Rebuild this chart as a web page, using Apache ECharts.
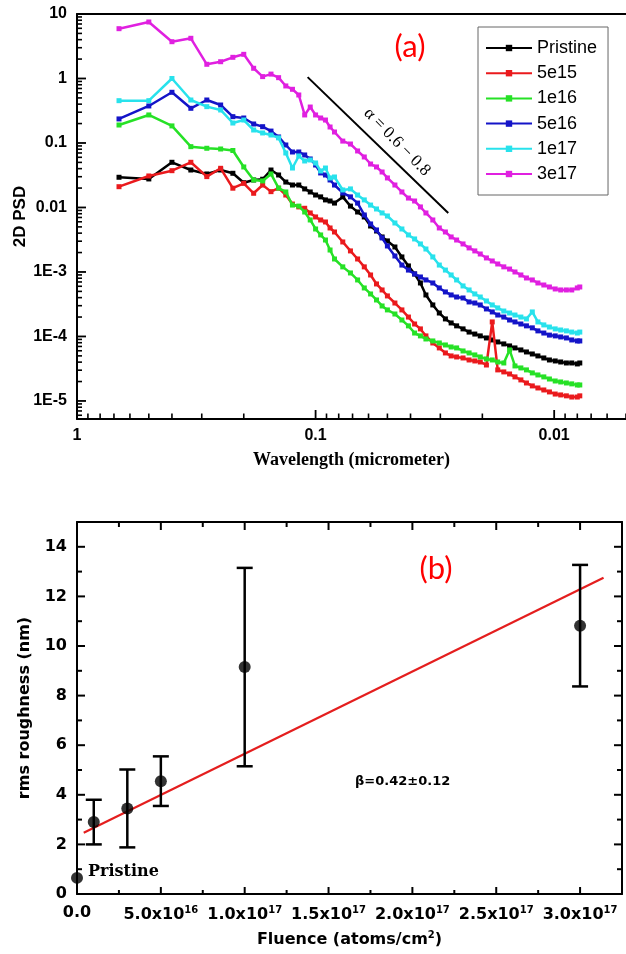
<!DOCTYPE html>
<html><head><meta charset="utf-8">
<script src="https://cdn.jsdelivr.net/npm/echarts@6/dist/echarts.min.js"></script>
<style>html,body{margin:0;padding:0;background:#fff}#c{width:626px;height:954px}</style>
</head><body><div id="c"></div>
<script>
// ---------- (a) 2D PSD vs wavelength ----------
const wavelength = [0.6667,0.5,0.4,0.3333,0.2857,0.25,0.2222,0.2,0.1818,0.1667,0.1538,0.1429,0.1333,0.125,0.1176,0.1111,0.1053,0.1,0.09524,0.09091,0.08696,0.08333,
  0.07692,0.07143,0.06667,0.0625,0.05882,0.05556,0.05263,0.05,
  0.04651,0.04348,0.04082,0.03846,0.03636,0.03448,
  0.03226,0.0303,0.02857,0.02703,0.02564,
  0.0241,0.02273,0.02151,0.02041,
  0.01923,0.01818,0.01724,0.01626,0.01538,0.0146,0.01379,0.01307,0.01235,0.0117,0.01105,0.01047,0.0099,0.00939,0.00889,0.00844,0.008,0.00781];

const psdPristine = [0.0294,0.0277,0.0502,0.0381,0.0331,0.0381,0.0339,0.0242,0.0267,0.0274,0.0381,0.0319,0.0248,0.0223,0.0223,0.0194,0.0174,0.0156,0.0146,0.0131,0.0126,0.0117,
  0.0146,0.0105,0.00851,0.00713,0.00516,0.00432,0.00349,0.00303,
  0.00244,0.00171,0.00124,0.000931,0.000675,0.00044,
  0.000308,0.000231,0.000187,0.000162,0.000146,
  0.000131,0.000117,0.000109,0.000102,
  0.0000948,0.0000883,0.0000822,0.0000766,0.0000713,0.0000664,0.0000618,0.0000575,0.0000535,0.0000499,0.0000464,0.0000432,0.0000417,0.0000402,0.0000388,0.0000388,0.0000375,0.0000388];

const psd5e15 = [0.021,0.0308,0.0372,0.0502,0.0301,0.0405,0.0199,0.0237,0.0166,0.0223,0.0176,0.0199,0.0156,0.0113,0.0102,0.00972,0.00822,0.00713,0.0064,0.00596,0.00481,0.00417,
  0.00292,0.00212,0.00159,0.0012,0.000898,0.000652,0.000526,0.000425,
  0.00033,0.000258,0.0002,0.000156,0.000131,0.000102,
  0.0000793,0.0000664,0.0000555,0.0000499,0.0000481,
  0.0000464,0.0000432,0.0000417,0.0000402,
  0.0000361,0.000168,0.0000303,0.0000282,0.0000262,0.0000236,0.0000212,0.000019,0.0000171,0.0000159,0.0000148,0.0000138,0.0000128,0.0000124,0.000012,0.0000115,0.0000115,0.000012];

const psd1e16 = [0.19,0.272,0.184,0.0877,0.0828,0.0807,0.0765,0.0425,0.0267,0.0258,0.0331,0.02,0.0174,0.0109,0.0105,0.00851,0.0064,0.00464,0.00375,0.00313,0.00219,0.00159,
  0.0012,0.000965,0.000752,0.000565,0.000456,0.000368,0.000297,0.000258,
  0.000223,0.00018,0.000146,0.000113,0.000102,0.0000914,
  0.0000852,0.0000793,0.0000738,0.0000687,0.0000664,
  0.0000596,0.0000555,0.0000517,0.0000481,
  0.0000448,0.0000432,0.0000402,0.0000388,0.0000618,0.0000349,0.0000325,0.0000303,0.0000272,0.0000253,0.0000236,0.0000219,0.0000204,0.0000197,0.000019,0.0000184,0.0000177,0.0000177];

const psd5e16 = [0.236,0.375,0.611,0.345,0.464,0.388,0.256,0.244,0.197,0.179,0.153,0.124,0.0931,0.0725,0.0725,0.0652,0.0565,0.0456,0.0343,0.0319,0.0267,0.0223,
  0.0168,0.0146,0.0117,0.00765,0.00555,0.00448,0.00337,0.00253,
  0.00177,0.00128,0.00107,0.000931,0.000836,0.000752,
  0.000675,0.000565,0.00049,0.00044,0.000409,
  0.000395,0.000343,0.00033,0.000308,
  0.000267,0.00024,0.000215,0.0002,0.00018,0.000168,0.000156,0.000146,0.000136,0.000122,0.000113,0.000105,0.000102,0.0000982,0.0000948,0.0000883,0.0000852,0.0000852];

const psd1e17 = [0.453,0.453,1.0,0.464,0.366,0.325,0.204,0.227,0.159,0.143,0.133,0.12,0.07,0.0409,0.0629,0.0526,0.0545,0.049,0.0368,0.0409,0.0287,0.0297,
  0.0187,0.0194,0.0156,0.0131,0.0109,0.00948,0.00822,0.00738,
  0.00575,0.00464,0.00375,0.00325,0.00272,0.00227,
  0.00171,0.00128,0.00107,0.000898,0.000752,
  0.000607,0.000526,0.000456,0.000409,
  0.000355,0.000308,0.000277,0.000248,0.000231,0.000215,0.0002,0.000187,0.00024,0.000168,0.000151,0.00014,0.000131,0.000126,0.000122,0.000117,0.000113,0.000117];

const psd3e17 = [5.92,7.52,3.72,4.2,1.66,1.82,2.13,2.37,1.44,1.07,1.17,1.03,0.766,0.68,0.555,0.272,0.361,0.272,0.244,0.227,0.177,0.148,
  0.107,0.0964,0.0752,0.0607,0.0472,0.0425,0.0355,0.0287,
  0.0223,0.0174,0.014,0.0126,0.0102,0.00822,
  0.0064,0.00481,0.00417,0.00349,0.00313,
  0.00272,0.00236,0.00212,0.0019,
  0.00165,0.00148,0.00133,0.0012,0.00111,0.001,0.000898,0.000807,0.000752,0.000675,0.000628,0.000585,0.000545,0.000526,0.000526,0.000526,0.000565,0.000585];

const seriesNames = ['Pristine','5e15','1e16','5e16','1e17','3e17'];
const seriesValues = [psdPristine, psd5e15, psd1e16, psd5e16, psd1e17, psd3e17];
const seriesColors = ['#000000','#ea1a1d','#26e126','#1414c8','#28e2ec','#e020e0'];

const psdTickValues = [1e-5,1e-4,1e-3,0.01,0.1,1,10];
const psdTickLabels = ['1E-5','1E-4','1E-3','0.01','0.1','1','10'];
const wlTickValues = [0.01,0.1,1];
const wlTickLabels = ['0.01','0.1','1'];
const slopeLineX = [0.108, 0.0278];
const slopeLineY = [1.05, 0.0082];

// ---------- (b) rms roughness vs fluence ----------
const fluence   = [0, 1e16, 3e16, 5e16, 1e17, 3e17];
const roughness = [0.65, 2.9, 3.45, 4.55, 9.15, 10.82];
const roughErr  = [0, 0.9, 1.57, 1.0, 4.0, 2.45];
const fitX = [4e15, 3.14e17];
const fitY = [2.47, 12.75];
const fluenceTickValues = [0,5e16,1e17,1.5e17,2e17,2.5e17,3e17];
const fluenceTickLabels = ['0.0','5.0x10{sup|16}','1.0x10{sup|17}','1.5x10{sup|17}','2.0x10{sup|17}','2.5x10{sup|17}','3.0x10{sup|17}'];
const fluenceMinorTicks = [2.5e16,7.5e16,1.25e17,1.75e17,2.25e17,2.75e17];
const roughTickValues = [0,2,4,6,8,10,12,14];
const roughTickLabels = ['0','2','4','6','8','10','12','14'];
const roughMinorTicks = [1,3,5,7,9,11,13];

// ---------- axis ranges ----------
const WL_MIN = 0.005, WL_MAX = 1;
const PSD_MIN = 5.25e-6, PSD_MAX = 10;
const FL_MIN = 0, FL_MAX = 3.25e17;
const R_MIN = 0, R_MAX = 15;

const SANS = "'Liberation Sans', Arial, sans-serif";
const WIDE = "'DejaVu Sans', sans-serif";
const SERIF = "'Liberation Serif', 'Times New Roman', serif";

function logLabel(values, labels){
  return function(v){
    for (let i=0;i<values.length;i++){
      if (Math.abs(Math.log10(v)-Math.log10(values[i]))<1e-6) return labels[i];
    }
    return '';
  };
}
function linLabel(values, labels){
  return function(v){
    for (let i=0;i<values.length;i++){
      if (Math.abs(v-values[i]) <= Math.abs(values[i])*1e-9 + 1e-12) return labels[i];
    }
    return '';
  };
}

// tick positions of the log axes (axis decoration, 2..9 per decade)
const wlMinor = [];
[1, 0.1, 0.01].forEach(function(d){ for (let m=2;m<=9;m++){ const v=m*d/10; if (v>=WL_MIN && v<=WL_MAX) wlMinor.push(v); } });
const psdMinor = [];
for (let k=-6;k<=0;k++){ for (let m=2;m<=9;m++){ const v=m*Math.pow(10,k); if (v>=PSD_MIN && v<=PSD_MAX) psdMinor.push(v); } }

// inward tick marks drawn through the axes' own scales
function tickSeries(xi, yi, pts, dx, dy, lw){
  return {
    type:'custom', xAxisIndex:xi, yAxisIndex:yi, silent:true, clip:false, z:6,
    data:pts, encode:{x:0, y:1},
    renderItem:function(params, api){
      const p = api.coord([api.value(0), api.value(1)]);
      return {type:'line', shape:{x1:p[0], y1:p[1], x2:p[0]+dx, y2:p[1]+dy},
              style:{stroke:'#000', lineWidth:lw}};
    }
  };
}
function atX(vals, yEdge){ return vals.map(function(v){ return [v, yEdge]; }); }
function atY(vals, xEdge){ return vals.map(function(v){ return [xEdge, v]; }); }

const psdSeries = seriesNames.map(function(name, s){
  return {
    name:name, type:'line', xAxisIndex:0, yAxisIndex:0,
    data: wavelength.map(function(w,i){ return [w, seriesValues[s][i]]; }),
    symbol:'rect', symbolSize:5, showSymbol:true,
    lineStyle:{color:seriesColors[s], width:2.5},
    itemStyle:{color:seriesColors[s]},
    z:2+s
  };
});

const noTick = {show:false};
const axLine = {onZero:false, lineStyle:{color:'#000', width:2}};
const chart = echarts.init(document.getElementById('c'), null, {renderer:'canvas'});
chart.setOption({
  animation:false,
  backgroundColor:'#ffffff',
  grid:[
    {left:77, top:14, width:549, height:405, containLabel:false, outerBoundsMode:'none'},
    {left:77, top:522, width:545, height:372, containLabel:false, outerBoundsMode:'none'}
  ],
  legend:{
    data:seriesNames, orient:'vertical', left:478, top:27,
    borderColor:'#666', borderWidth:1, borderRadius:0,
    padding:[12, 11, 12, 7],
    itemWidth:46, itemHeight:8, itemGap:7.2,
    selectedMode:false,
    textStyle:{fontFamily:SANS, fontSize:18, color:'#000', lineHeight:17}
  },
  xAxis:[
    {gridIndex:0, type:'log', logBase:10, min:WL_MIN, max:WL_MAX, inverse:true, position:'bottom',
     name:'Wavelength (micrometer)', nameLocation:'middle', nameGap:32, nameMoveOverlap:false,
     nameTextStyle:{fontFamily:SERIF, fontWeight:'bold', fontSize:18, color:'#000'},
     axisLine:axLine, axisTick:noTick, minorTick:noTick,
     axisLabel:{formatter:logLabel(wlTickValues, wlTickLabels), fontFamily:SANS, fontWeight:'bold', fontSize:16, color:'#000', margin:9},
     splitLine:{show:false}},
    {gridIndex:0, type:'log', logBase:10, min:WL_MIN, max:WL_MAX, inverse:true, position:'top',
     axisLine:axLine, axisTick:noTick, axisLabel:{show:false}, splitLine:{show:false}},
    {gridIndex:1, type:'value', min:FL_MIN, max:FL_MAX, interval:5e16, position:'bottom',
     name:'Fluence (atoms/cm{sup|2})', nameLocation:'middle', nameGap:36, nameMoveOverlap:false,
     nameTextStyle:{fontFamily:WIDE, fontWeight:'bold', fontSize:16, color:'#000',
        rich:{sup:{fontFamily:WIDE, fontWeight:'bold', fontSize:10, color:'#000', padding:[0,0,9,0]}}},
     axisLine:axLine, axisTick:noTick, minorTick:noTick,
     axisLabel:{formatter:linLabel(fluenceTickValues, fluenceTickLabels), showMaxLabel:false,
        fontFamily:WIDE, fontWeight:'bold', fontSize:16, color:'#000', margin:11,
        rich:{sup:{fontFamily:WIDE, fontWeight:'bold', fontSize:10, color:'#000', padding:[0,0,9,0]}}},
     splitLine:{show:false}},
    {gridIndex:1, type:'value', min:FL_MIN, max:FL_MAX, interval:5e16, position:'top',
     axisLine:axLine, axisTick:noTick, minorTick:noTick, axisLabel:{show:false}, splitLine:{show:false}}
  ],
  yAxis:[
    {gridIndex:0, type:'log', logBase:10, min:PSD_MIN, max:PSD_MAX, position:'left',
     name:'2D PSD', nameLocation:'middle', nameGap:48, nameMoveOverlap:false,
     nameTextStyle:{fontFamily:SANS, fontWeight:'bold', fontSize:17, color:'#000'},
     axisLine:axLine, axisTick:noTick, minorTick:noTick,
     axisLabel:{formatter:logLabel(psdTickValues, psdTickLabels), fontFamily:SANS, fontWeight:'bold', fontSize:16, color:'#000', margin:10},
     splitLine:{show:false}},
    {gridIndex:1, type:'value', min:R_MIN, max:R_MAX, interval:2, position:'left',
     name:'rms roughness (nm)', nameLocation:'middle', nameGap:44, nameMoveOverlap:false,
     nameTextStyle:{fontFamily:WIDE, fontWeight:'bold', fontSize:16, color:'#000'},
     axisLine:axLine, axisTick:noTick, minorTick:noTick,
     axisLabel:{formatter:linLabel(roughTickValues, roughTickLabels), showMaxLabel:false,
        fontFamily:WIDE, fontWeight:'bold', fontSize:16, color:'#000', margin:10},
     splitLine:{show:false}},
    {gridIndex:1, type:'value', min:R_MIN, max:R_MAX, interval:2, position:'right',
     axisLine:axLine, axisTick:noTick, minorTick:noTick, axisLabel:{show:false}, splitLine:{show:false}}
  ],
  series: psdSeries.concat([
    // (a) ticks, pointing into the plot
    tickSeries(0, 0, atX(wlTickValues, PSD_MIN), 0, -9, 1.8),
    tickSeries(0, 0, atX(wlMinor, PSD_MIN), 0, -5.5, 1.6),
    tickSeries(0, 0, atY(psdTickValues, WL_MAX), 9, 0, 1.8),
    tickSeries(0, 0, atY(psdMinor, WL_MAX), 5, 0, 1.6),
    // (b) ticks on all four sides
    tickSeries(2, 2, atX(fluenceTickValues, R_MIN), 0, -7, 2),
    tickSeries(2, 2, atX(fluenceMinorTicks, R_MIN), 0, -4, 2),
    tickSeries(2, 2, atX(fluenceTickValues, R_MAX), 0, 8, 2),
    tickSeries(2, 2, atX(fluenceMinorTicks, R_MAX), 0, 5, 2),
    tickSeries(2, 2, atY(roughTickValues, FL_MIN), 8, 0, 2),
    tickSeries(2, 2, atY(roughMinorTicks, FL_MIN), 5, 0, 2),
    tickSeries(2, 2, atY(roughTickValues, FL_MAX), -8, 0, 2),
    tickSeries(2, 2, atY(roughMinorTicks, FL_MAX), -5, 0, 2),
    {name:'slope', type:'line', xAxisIndex:0, yAxisIndex:0, silent:true, symbol:'none', z:10,
     data: slopeLineX.map(function(x,i){ return [x, slopeLineY[i]]; }),
     lineStyle:{color:'#000', width:2}},
    {name:'fit', type:'line', xAxisIndex:2, yAxisIndex:2, silent:true, symbol:'none', z:3,
     data: fitX.map(function(x,i){ return [x, fitY[i]]; }),
     lineStyle:{color:'#e41e1e', width:2.2}},
    {name:'errors', type:'custom', xAxisIndex:2, yAxisIndex:2, silent:true, clip:false, z:4,
     data: fluence.map(function(f,i){ return [f, roughness[i], roughErr[i]]; }),
     encode:{x:0, y:1},
     renderItem:function(params, api){
       const x = api.value(0), y = api.value(1), e = api.value(2);
       if (!e) return null;
       const hi = api.coord([x, y+e]), lo = api.coord([x, y-e]);
       const w = 8, st = {stroke:'#000', lineWidth:2.5};
       return {type:'group', children:[
         {type:'line', shape:{x1:hi[0], y1:hi[1], x2:lo[0], y2:lo[1]}, style:st},
         {type:'line', shape:{x1:hi[0]-w, y1:hi[1], x2:hi[0]+w, y2:hi[1]}, style:st},
         {type:'line', shape:{x1:lo[0]-w, y1:lo[1], x2:lo[0]+w, y2:lo[1]}, style:st}
       ]};
     }},
    {name:'roughness', type:'scatter', xAxisIndex:2, yAxisIndex:2, clip:false, z:5,
     symbol:'circle', symbolSize:12, itemStyle:{color:'#000'},
     data: fluence.map(function(f,i){ return [f, roughness[i]]; })}
  ]),
  graphic:[
    {type:'text', x:410, y:47, z:20, style:{text:'(a)', fill:'#ff0000', font:"31px Lato, 'Open Sans', sans-serif", textAlign:'center', textVerticalAlign:'middle'}},
    {type:'text', x:397, y:142, rotation:-0.80, z:20, style:{text:'\u03b1 = 0.6 \u2212 0.8', fill:'#000', font:"17px 'Liberation Serif', serif", textAlign:'center', textVerticalAlign:'middle'}},
    {type:'text', x:436, y:569, z:20, style:{text:'(b)', fill:'#ff0000', font:"31px Lato, 'Open Sans', sans-serif", textAlign:'center', textVerticalAlign:'middle'}},
    {type:'text', x:355, y:782, z:20, style:{text:'\u03b2=0.42\u00b10.12', fill:'#000', font:"bold 13px 'DejaVu Sans', sans-serif", textAlign:'left', textVerticalAlign:'middle'}},
    {type:'text', x:88, y:872, z:20, style:{text:'Pristine', fill:'#000', font:"bold 16px 'DejaVu Serif', serif", textAlign:'left', textVerticalAlign:'middle'}}
  ]
});
</script>
</body></html>
